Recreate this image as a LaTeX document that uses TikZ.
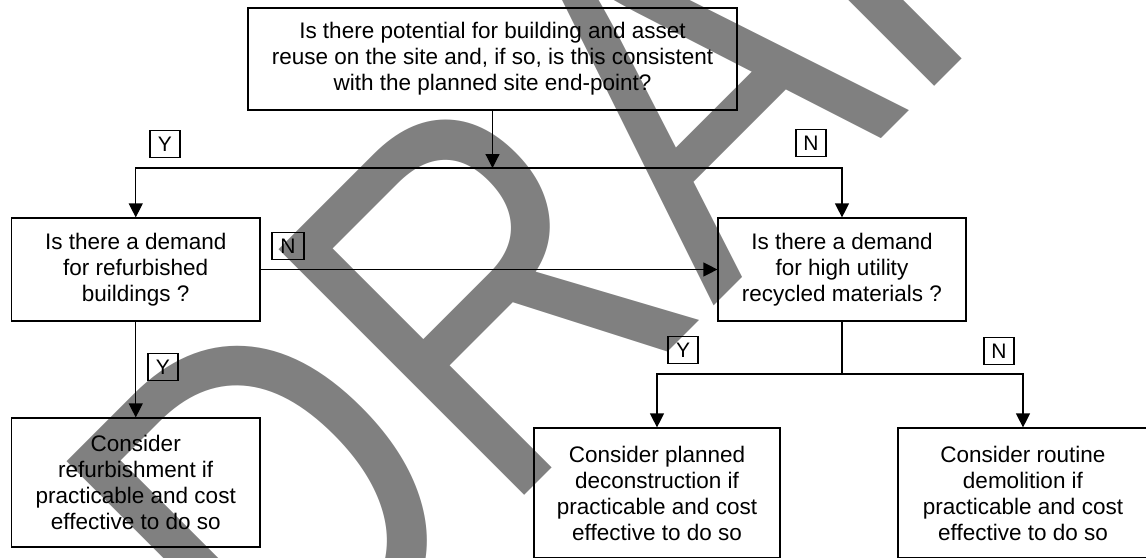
\documentclass[tikz,border=0pt]{standalone}
\usepackage{fontspec}
\setmainfont{Liberation Sans}
\usetikzlibrary{arrows.meta}
\definecolor{wm}{RGB}{128,128,128}
\begin{document}
\begin{tikzpicture}[x=1pt,y=1pt,
  box/.style={draw=black, line width=1.2pt, align=center, inner sep=0pt,
    font=\fontsize{22.5}{26}\selectfont},
  yn/.style={draw=black, line width=1.2pt, minimum width=30pt, minimum height=27pt,
    inner sep=0pt, font=\fontsize{21}{21}\selectfont},
  conn/.style={line width=1.2pt},
  arr/.style={conn, -{Triangle[length=14pt,width=14pt]}}]
\useasboundingbox (0,0) rectangle (1146,-557);
\clip (0,0) rectangle (1146,-557);
% watermark
\begin{scope}[shift={(288,-732)}, rotate=45, transform shape]
  \node[anchor=base west, inner sep=0pt, xscale=0.825, text=wm,
    font=\fontsize{505}{510}\selectfont] (wmark) {DRAFT};
\end{scope}
% boxes
\node[box, minimum width=489pt, minimum height=102pt] (top) at (492.5,-59)
  {Is there potential for building and asset\\reuse on the site and, if so, is this consistent\\with the planned site end-point?};
\node[box, minimum width=248.5pt, minimum height=103pt] (q1) at (135.75,-269.5)
  {Is there a demand\\for refurbished\\buildings ?};
\node[box, minimum width=248pt, minimum height=103pt] (q2) at (842,-269.5)
  {Is there a demand\\for high utility\\recycled materials ?};
\node[box, minimum width=248.5pt, minimum height=129pt] (r1) at (135.75,-482.5)
  {Consider\\refurbishment if\\practicable and cost\\effective to do so};
\node[box, minimum width=246pt, minimum height=130pt] (r2) at (657,-493)
  {Consider planned\\deconstruction if\\practicable and cost\\effective to do so};
\node[box, minimum width=250pt, minimum height=130pt] (r3) at (1023,-493)
  {Consider routine\\demolition if\\practicable and cost\\effective to do so};
% labels
\node[yn] (ly1) at (165,-144) {Y};
\node[yn] (ln1) at (811,-143) {N};
\node[yn, minimum width=32pt] (ln2) at (288,-246) {N};
\node[yn] (ly2) at (163,-367) {Y};
\node[yn] (ly3) at (683,-350) {Y};
\node[yn] (ln3) at (999,-351) {N};
% connectors
\coordinate (jy) at (0,-168);
\coordinate (ky) at (0,-374);
\draw[arr] (top.south) -- (top.south |- jy);
\draw[arr] (top.south |- jy) -| (q1.north);
\draw[arr] (top.south |- jy) -| (q2.north);
\draw[arr] (q1.east) -- (q2.west);
\draw[arr] (q1.south) -- (r1.north);
\draw[conn] (q2.south) -- (q2.south |- ky);
\draw[arr] (q2.south |- ky) -| (r2.north);
\draw[arr] (q2.south |- ky) -| (r3.north);
\end{tikzpicture}
\end{document}
